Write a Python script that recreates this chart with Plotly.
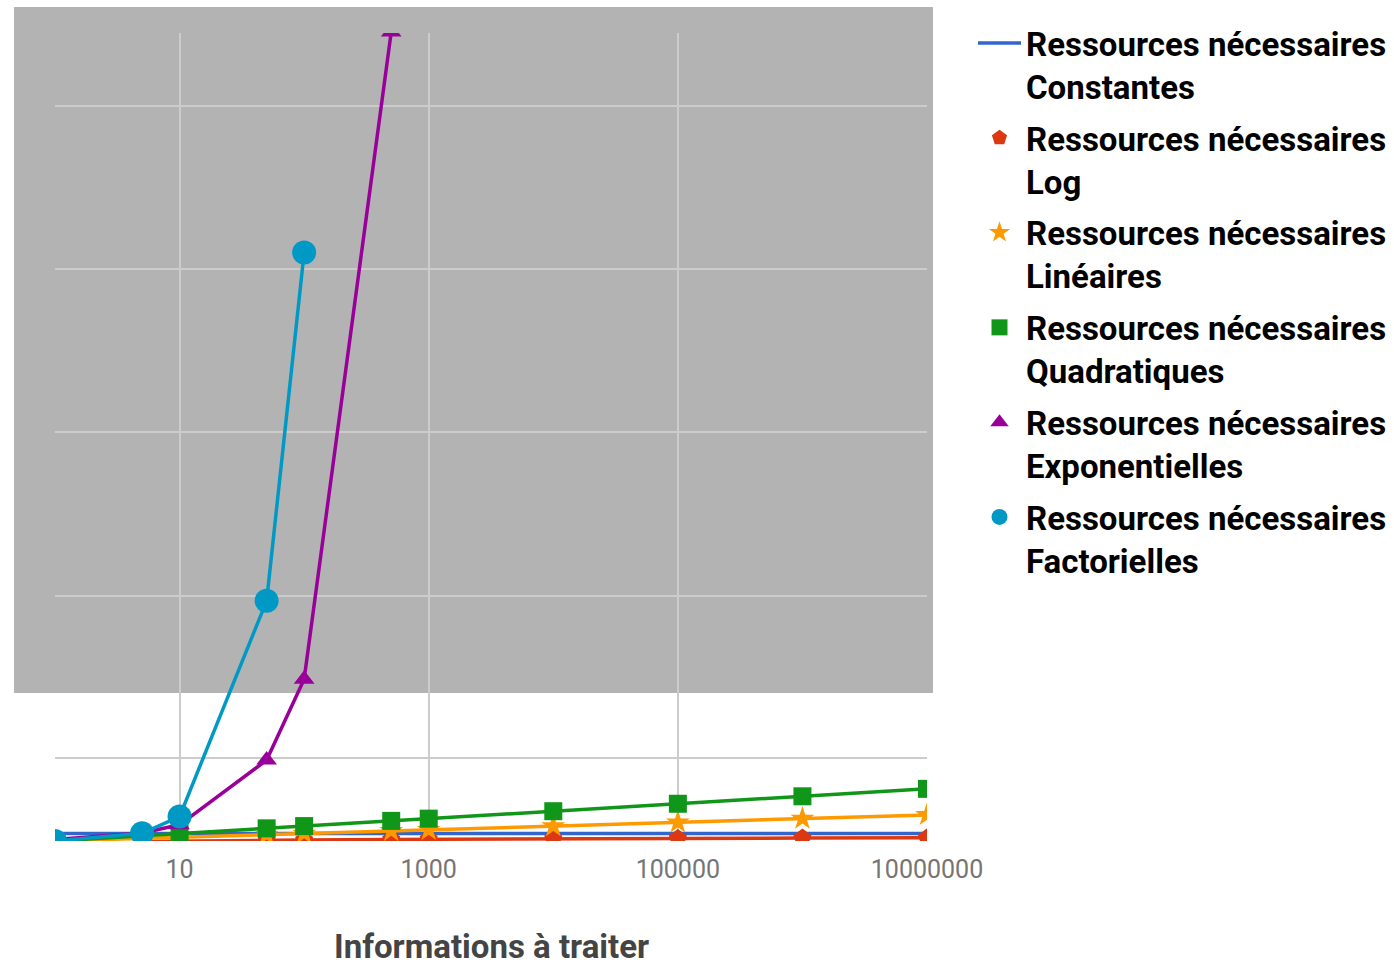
import plotly.graph_objects as go

# Problem sizes (number of items to process)
sizes = [1, 5, 10, 50, 100, 500, 1000, 10000, 100000, 1000000, 10000000]

# Resources needed for each growth class
constant_res = [100, 100, 100, 100, 100, 100, 100, 100, 100, 100, 100]
log_res = [None, 0.7, 1, 1.7, 2, 2.7, 3, 4, 5, 6, 7]
linear_res = [1, 5, 10, 50, 100, 500, 1000, 1e4, 1e5, 1e6, 1e7]
quadratic_res = [1, 25, 100, 2500, 1e4, 2.5e5, 1e6, 1e8, 1e10, 1e12, 1e14]
exponential_sizes = [1, 5, 10, 50, 100, 500]
exponential_res = [2.7, 148, 2.2e4, 5.2e21, 2.7e43, 1.4e217]
factorial_sizes = [1, 5, 10, 50, 100]
factorial_res = [1, 120, 3.6e6, 3.0e64, 9.3e157]

series_names = [
    "Ressources nécessaires<br>Constantes",
    "Ressources nécessaires<br>Log",
    "Ressources nécessaires<br>Linéaires",
    "Ressources nécessaires<br>Quadratiques",
    "Ressources nécessaires<br>Exponentielles",
    "Ressources nécessaires<br>Factorielles",
]
series_colors = ["#3366cc", "#dc3912", "#ff9900", "#109618", "#990099", "#0099c6"]
series_symbols = [None, "pentagon", "star", "square", "triangle-up", "circle"]
series_marker_sizes = [0, 19, 18, 18, 18, 24]

# Horizontal gridline positions (log10 of the value)
y_grid_exponents = [22.3, 65.8, 109.8, 153.6, 197.4]
x_tick_values = [10, 1000, 100000, 10000000]
x_tick_labels = ["10", "1000", "100000", "10000000"]
x_title = "Informations à traiter"

series_x = [sizes, sizes, sizes, sizes, exponential_sizes, factorial_sizes]
series_y = [constant_res, log_res, linear_res, quadratic_res, exponential_res, factorial_res]

fig = go.Figure()
for i, name in enumerate(series_names):
    fig.add_trace(go.Scatter(
        x=series_x[i], y=series_y[i], mode="lines",
        line=dict(color=series_colors[i], width=3.5),
        name=name, legendgroup=f"g{i}",
        showlegend=(series_symbols[i] is None),
        hoverinfo="skip",
    ))
    if series_symbols[i] is not None:
        fig.add_trace(go.Scatter(
            x=series_x[i], y=series_y[i], mode="markers",
            marker=dict(color=series_colors[i], symbol=series_symbols[i],
                        size=series_marker_sizes[i], line=dict(width=0)),
            name=name, legendgroup=f"g{i}",
        ))

plot_left, plot_right, plot_top, plot_bottom = 55, 927, 33, 841
plot_w = plot_right - plot_left
plot_h = plot_bottom - plot_top

def px_to_paper_x(px):
    return (px - plot_left) / plot_w

def px_to_paper_y(py):
    return (plot_bottom - py) / plot_h

# grey backdrop panel behind the upper part of the chart
fig.add_shape(
    type="rect", xref="paper", yref="paper", layer="below",
    x0=px_to_paper_x(14), x1=px_to_paper_x(933),
    y0=px_to_paper_y(693), y1=px_to_paper_y(7),
    fillcolor="#b3b3b3", line=dict(width=0),
)

# x-axis title, centred under the plot area
fig.add_annotation(
    text=x_title, xref="paper", yref="paper",
    x=0.5, y=px_to_paper_y(947), xanchor="center", yanchor="middle",
    showarrow=False,
    font=dict(family="Roboto", size=33, color="#444444", weight="bold"),
)

fig.update_layout(
    width=1394, height=968,
    margin=dict(l=plot_left, r=1394 - plot_right, t=plot_top, b=968 - plot_bottom,
                autoexpand=False),
    paper_bgcolor="white",
    plot_bgcolor="rgba(0,0,0,0)",
    font=dict(family="Roboto", color="#222222"),
    showlegend=True,
    legend=dict(
        x=px_to_paper_x(973), xanchor="left",
        y=px_to_paper_y(15), yanchor="top",
        font=dict(family="Roboto", size=33, color="#000000", weight="bold"),
        valign="top", tracegroupgap=6, itemwidth=43,
        maxheight=960,
        bgcolor="rgba(0,0,0,0)",
    ),
    xaxis=dict(
        type="log", range=[0, 7],
        tickmode="array", tickvals=x_tick_values, ticktext=x_tick_labels,
        showgrid=True, gridcolor="#cccccc", gridwidth=1.5,
        zeroline=False, showline=False, ticks="",
        ticklabelstandoff=11,
        tickfont=dict(family="Roboto", size=25, color="#757575"),
    ),
    yaxis=dict(
        type="log", range=[0, 216.9],
        tickmode="array", tickvals=[10 ** e for e in y_grid_exponents],
        showticklabels=False, ticks="",
        showgrid=True, gridcolor="#cccccc", gridwidth=1.5,
        zeroline=False, showline=False,
    ),
)

fig.write_html("out.html")
